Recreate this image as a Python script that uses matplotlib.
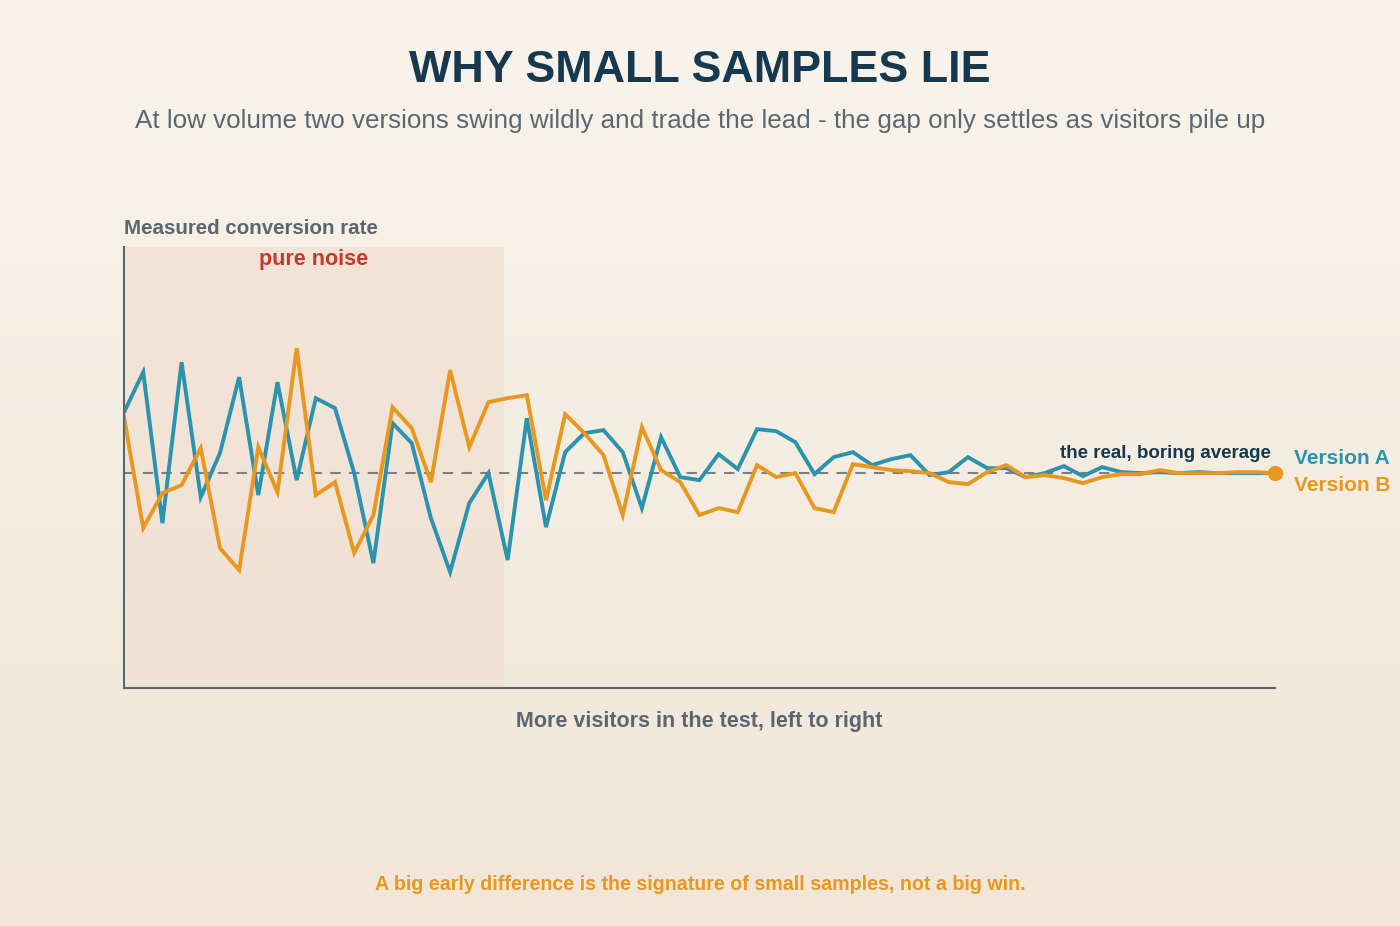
import matplotlib
matplotlib.use('Agg')
import matplotlib.pyplot as plt
import numpy as np

# measured conversion, offset from the true average (arbitrary units)
version_a = [61, 101, -50, 111, -24, 20, 96, -22, 91, -7, 75, 65, 0, -90, 50, 30, -45, -99, -30, 0,
             -87, 55, -54, 21, 40, 43, 21, -35, 36, -4, -7, 19, 4, 44, 42, 31, -1, 16, 21, 8,
             14, 18, -2, 1, 16, 5, 5, -4, 0, 7, -3, 6, 1, 0, 1, 0, 1, 0, 0, 0, 0]
version_b = [56, -55, -20, -12, 25, -75, -97, 26, -19, 125, -22, -9, -80, -42, 66, 45, -9, 103, 26, 71,
             75, 78, -27, 59, 40, 18, -42, 46, 3, -9, -42, -35, -39, 8, -4, 0, -35, -39, 9, 6,
             3, 2, 0, -9, -11, 1, 8, -4, -2, -5, -10, -4, -1, -1, 3, 0, 0, 0, 1, 1, 0]
visitors = np.arange(len(version_a))
noise_end = 19.8

TEAL = '#2b93ad'
ORANGE = '#e8981f'
plt.rcParams['font.family'] = ['Liberation Sans', 'DejaVu Sans']

fig = plt.figure(figsize=(14, 9.26), dpi=100)

# background gradient
bg = fig.add_axes([0, 0, 1, 1], zorder=-10)
grad = np.linspace(0, 1, 256).reshape(-1, 1)
top = np.array([248, 244, 236]) / 255
bot = np.array([241, 230, 216]) / 255
bg.imshow(top + (bot - top) * grad[:, :, None], aspect='auto', extent=[0, 1, 0, 1])
bg.axis('off')

ax = fig.add_axes([0.0886, 0.257, 0.822, 0.476])
ax.patch.set_alpha(0)
ax.set_xlim(0, 60)
ax.set_ylim(-215, 226)
ax.axvspan(0, noise_end, color='#f0e0d2', alpha=0.7, lw=0)
ax.axhline(0, color='#7a7f85', lw=1.5, ls=(0, (5, 4)))
ax.plot(visitors, version_a, color=TEAL, lw=2.8, solid_joinstyle='miter')
ax.plot(visitors, version_b, color=ORANGE, lw=2.8, solid_joinstyle='miter')
ax.plot(visitors[-1], version_b[-1], 'o', color=ORANGE, ms=10, clip_on=False)
for s in ['top', 'right']:
    ax.spines[s].set_visible(False)
for s in ['left', 'bottom']:
    ax.spines[s].set_color('#5b6770')
    ax.spines[s].set_linewidth(1.5)
ax.set_xticks([])
ax.set_yticks([])

ax.text(noise_end / 2, 214, 'pure noise', color='#c33a2b', fontsize=15.5, fontweight='bold', ha='center', va='center')
ax.text(59.8, 20, 'the real, boring average', color='#16394f', fontsize=13.5, fontweight='bold', ha='right', va='center')
ax.text(61, 15, 'Version A', color=TEAL, fontsize=15, fontweight='bold', va='center', clip_on=False)
ax.text(61, -12, 'Version B', color=ORANGE, fontsize=15, fontweight='bold', va='center', clip_on=False)

fig.text(0.5, 1 - 70 / 926, 'WHY SMALL SAMPLES LIE', color='#16394f', fontsize=32.3, fontweight='bold', ha='center', va='center')
fig.text(0.5, 1 - 121 / 926, 'At low volume two versions swing wildly and trade the lead - the gap only settles as visitors pile up',
         color='#5b6770', fontsize=18.7, ha='center', va='center')
fig.text(124 / 1400, 1 - 228 / 926, 'Measured conversion rate', color='#5b6770', fontsize=14.8, fontweight='bold', va='center')
fig.text(699 / 1400, 1 - 722 / 926, 'More visitors in the test, left to right', color='#5b6770', fontsize=15.5, fontweight='bold', ha='center', va='center')
fig.text(0.5, 1 - 885 / 926, 'A big early difference is the signature of small samples, not a big win.',
         color=ORANGE, fontsize=14.1, fontweight='bold', ha='center', va='center')

fig.savefig('out.png', dpi=100)
